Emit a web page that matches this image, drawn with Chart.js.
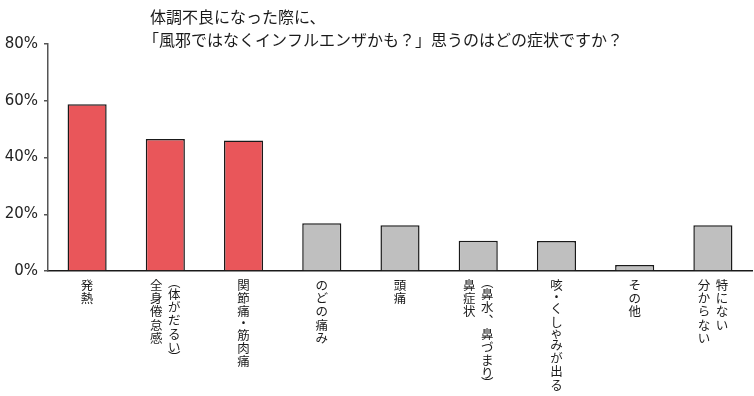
<!DOCTYPE html>
<html lang="ja">
<head>
<meta charset="utf-8">
<script src="https://cdn.jsdelivr.net/npm/chart.js@4/dist/chart.umd.min.js"></script>
<style>
  body { margin: 0; background: #fff; }
  #wrap { position: relative; width: 754px; height: 396px; }
</style>
</head>
<body>
<div id="wrap"><canvas id="chart"></canvas></div>
<script>
// Title lines
const titleLines = [
    '体調不良になった際に、',
    '「風邪ではなくインフルエンザかも？」思うのはどの症状ですか？'
];

// Categories: each entry is a list of vertical columns, left to right
const categories = [
    ['発熱'],
    ['全身倦怠感', '︵体がだるい︶'],
    ['関節痛・筋肉痛'],
    ['のどの痛み'],
    ['頭痛'],
    ['鼻症状', '︵鼻水︑鼻づまり︶'],
    ['咳・くしゃみが出る'],
    ['その他'],
    ['分からない', '特にない']
];

// Share of respondents (%)
const values = [58.8, 46.5, 46.0, 16.8, 16.1, 10.7, 10.6, 2.1, 16.1];

// First three are highlighted
const highlighted = [true, true, true, false, false, false, false, false, false];

const yTicks = [0, 20, 40, 60, 80];

const RED = '#E9565A';
const GRAY = '#BFBFBF';
const CJK = '"Noto Sans CJK JP", "Noto Sans", sans-serif';

// Title drawn above the plot, left aligned
const titlePlugin = {
    id: 'titleLines',
    afterDraw(chart) {
        const ctx = chart.ctx;
        ctx.save();
        ctx.fillStyle = '#1a1a1a';
        ctx.font = '16px ' + CJK;
        ctx.textBaseline = 'middle';
        ctx.textAlign = 'left';
        ctx.fillText(titleLines[0], 150, 17);
        ctx.fillText(titleLines[1], 143, 40);
        ctx.restore();
    }
};

// Vertical (tategaki) category labels under each bar
const verticalLabels = {
    id: 'verticalLabels',
    afterDraw(chart) {
        const ctx = chart.ctx;
        const xScale = chart.scales.x;
        const top = chart.chartArea.bottom + 8;
        ctx.save();
        ctx.fillStyle = '#1a1a1a';
        ctx.font = '12.5px ' + CJK;
        ctx.textAlign = 'center';
        ctx.textBaseline = 'top';
        categories.forEach((cols, i) => {
            const cx = xScale.getPixelForValue(i);
            cols.forEach((col, j) => {
                const x = cx + (j - (cols.length - 1) / 2) * 18;
                let y = top;
                for (const ch of col) {
                    const paren = ch === '︵' || ch === '︶';
                    const narrow = ch === '・' || ch === 'ゃ';
                    ctx.fillText(ch, x, paren ? y - 3 : (narrow ? y - 1.5 : y));
                    y += paren ? 9 : (narrow ? 10.2 : 13.2);
                }
            });
        });
        ctx.restore();
    }
};

new Chart(document.getElementById('chart'), {
    type: 'bar',
    data: {
        labels: categories.map(c => c.join('')),
        datasets: [{
            data: values,
            backgroundColor: highlighted.map(h => h ? RED : GRAY),
            borderColor: '#1a1a1a',
            borderWidth: 1.5,
            categoryPercentage: 1,
            barPercentage: 0.5
        }]
    },
    options: {
        responsive: true,
        maintainAspectRatio: false,
        animation: false,
        layout: { padding: { top: 44, right: 2, bottom: 117, left: 0 } },
        plugins: {
            legend: { display: false },
            tooltip: { enabled: false }
        },
        scales: {
            x: {
                grid: { display: false },
                border: { display: true, color: '#1a1a1a', width: 1.5 },
                ticks: { display: false }
            },
            y: {
                min: 0,
                max: 80,
                afterFit(scale) { scale.width = 48; },
                afterBuildTicks(scale) { scale.ticks = yTicks.map(v => ({ value: v })); },
                grid: { drawOnChartArea: false, drawTicks: true, tickLength: 4, color: '#555', lineWidth: 1.5 },
                border: { display: true, color: '#555', width: 1.5 },
                ticks: {
                    padding: 6,
                    color: '#222',
                    font: { family: '"DejaVu Sans", Verdana, sans-serif', size: 15 },
                    callback: v => v + '%'
                }
            }
        }
    },
    plugins: [titlePlugin, verticalLabels]
});
</script>
</body>
</html>
